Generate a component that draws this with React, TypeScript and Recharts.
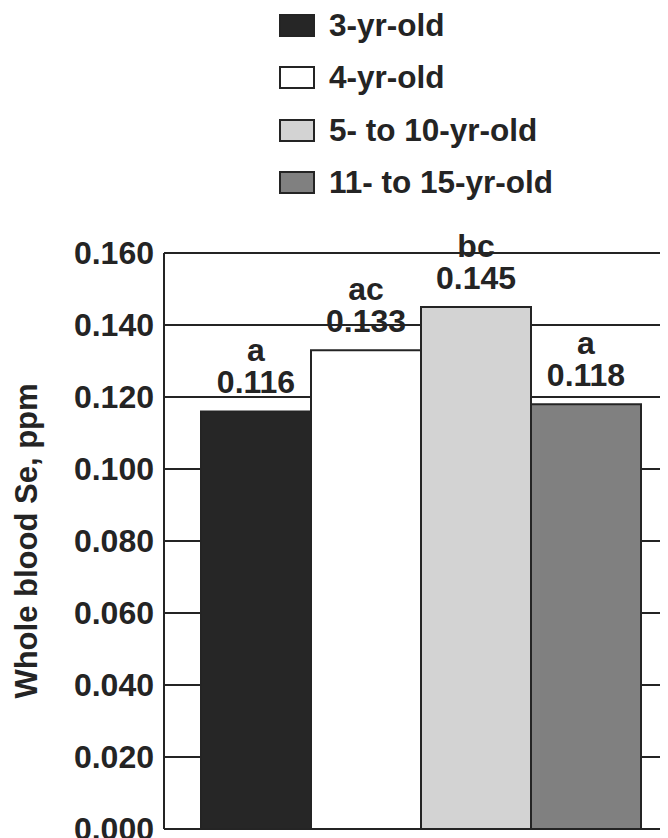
import React from "react";
import {
  BarChart,
  Bar,
  XAxis,
  YAxis,
  CartesianGrid,
  LabelList,
  Label,
} from "recharts";

// age groups, one bar each
const groups = ["3-yr-old", "4-yr-old", "5- to 10-yr-old", "11- to 15-yr-old"];
const seValues = [0.116, 0.133, 0.145, 0.118];
const letters = ["a", "ac", "bc", "a"];
const yTicks = [0, 0.02, 0.04, 0.06, 0.08, 0.1, 0.12, 0.14, 0.16];

const colors = ["#262626", "#ffffff", "#d3d3d3", "#808080"];
const ink = "#242424";
const font = "'Liberation Sans', Arial, sans-serif";

const row: Record<string, number | string> = { group: "" };
groups.forEach((g, i) => {
  row["s" + i] = seValues[i];
});
const data = [row];

const makeLabel = (letter: string) => (props: any) => {
  const { x, y, width, value } = props;
  const cx = Number(x) + Number(width) / 2;
  const top = Number(y);
  return (
    <g>
      <text x={cx} y={top - 50} textAnchor="middle" fill={ink} fontSize={32} fontWeight="bold" fontFamily={font}>
        {letter}
      </text>
      <text x={cx} y={top - 18} textAnchor="middle" fill={ink} fontSize={32} fontWeight="bold" fontFamily={font}>
        {Number(value).toFixed(3)}
      </text>
    </g>
  );
};

const AxisTitle = (props: any) => {
  const { viewBox } = props;
  const cy = viewBox.y + viewBox.height / 2;
  return (
    <text
      x={18}
      y={cy}
      transform={`rotate(-90 18 ${cy})`}
      textAnchor="middle"
      dominantBaseline="central"
      fill={ink}
      fontSize={31}
      fontWeight="bold"
      fontFamily={font}
    >
      Whole blood Se, ppm
    </text>
  );
};

const App = () => {
  return (
    <div style={{ position: "relative", width: 660, height: 830, fontFamily: font }}>
      <div style={{ position: "absolute", left: 271, top: -9 }}>
        {groups.map((g, i) => (
          <div key={g} style={{ display: "flex", alignItems: "center", height: 52.5 }}>
            <div
              style={{
                width: 32,
                height: 19,
                background: colors[i],
                border: `2px solid ${ink}`,
                marginRight: 14,
              }}
            />
            <span style={{ fontSize: 31.5, fontWeight: "bold", color: ink }}>{g}</span>
          </div>
        ))}
      </div>
      <BarChart
        width={660}
        height={830}
        data={data}
        margin={{ top: 245, right: 0, left: 0, bottom: 9 }}
        barGap={0}
        barSize={110}
      >
        <CartesianGrid vertical={false} stroke={ink} strokeWidth={2} />
        <XAxis
          dataKey="group"
          tick={false}
          tickLine={false}
          height={0}
          padding={{ left: 10, right: 0 }}
          axisLine={{ stroke: ink, strokeWidth: 2 }}
        />
        <YAxis
          domain={[0, 0.16]}
          ticks={yTicks}
          width={156}
          tickLine={false}
          tickMargin={4}
          interval={0}
          tickFormatter={(v: number) => v.toFixed(3)}
          tick={{ fill: ink, fontSize: 32, fontWeight: "bold", fontFamily: font }}
          axisLine={{ stroke: ink, strokeWidth: 2 }}
        >
          <Label content={<AxisTitle />} />
        </YAxis>
        {groups.map((g, i) => (
          <Bar
            key={g}
            dataKey={"s" + i}
            name={g}
            fill={colors[i]}
            stroke={ink}
            strokeWidth={2}
            isAnimationActive={false}
          >
            <LabelList dataKey={"s" + i} content={makeLabel(letters[i])} />
          </Bar>
        ))}
      </BarChart>
    </div>
  );
};

export default App;
